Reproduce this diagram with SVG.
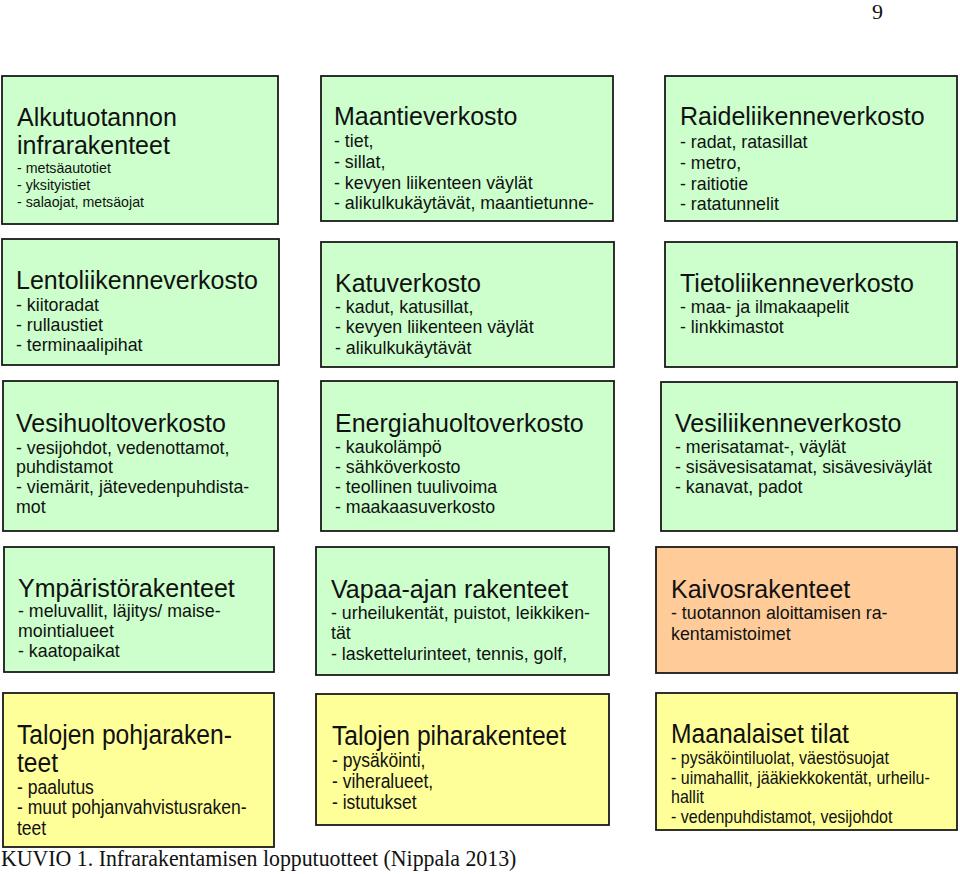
<svg xmlns="http://www.w3.org/2000/svg" width="960" height="874" viewBox="0 0 960 874">
<style>
.box{stroke:#1a1a1a;stroke-width:1.8}
.g{fill:#ccffcc}
.o{fill:#ffcc99}
.y{fill:#ffff99}
text{font-family:"Liberation Sans",Arial,sans-serif;fill:#111}
.t{font-size:25px}
.b{font-size:17.8px}
.s{font-size:14.2px}
.yt{font-size:28px}
.yb{font-size:19.9px}
.ys{font-size:18.2px}
.cap{font-family:"Liberation Serif","Times New Roman",serif;font-size:24px}
.pg{font-family:"Liberation Serif","Times New Roman",serif;font-size:22px}
</style>
<rect width="960" height="874" fill="#ffffff"/>
<text class="pg" x="872" y="19">9</text>

<g id="alkutuotanto">
<rect class="box g" x="2" y="76" width="276" height="148"/>
<text class="t" x="17" y="126">Alkutuotannon</text>
<text class="t" x="17" y="154">infrarakenteet</text>
<text class="s" x="17" y="173">- metsäautotiet</text>
<text class="s" x="17" y="190">- yksityistiet</text>
<text class="s" x="17" y="207">- salaojat, metsäojat</text>
</g>

<g id="maantieverkosto">
<rect class="box g" x="321" y="76" width="292" height="145"/>
<text class="t" x="334" y="125">Maantieverkosto</text>
<text class="b" x="334" y="147">- tiet,</text>
<text class="b" x="334" y="168">- sillat,</text>
<text class="b" x="334" y="189">- kevyen liikenteen väylät</text>
<text class="b" x="334" y="209">- alikulkukäytävät, maantietunne-</text>
</g>

<g id="raideliikenneverkosto">
<rect class="box g" x="665" y="76" width="292" height="145"/>
<text class="t" x="680" y="125">Raideliikenneverkosto</text>
<text class="b" x="680" y="148">- radat, ratasillat</text>
<text class="b" x="680" y="169">- metro,</text>
<text class="b" x="680" y="190">- raitiotie</text>
<text class="b" x="680" y="210">- ratatunnelit</text>
</g>

<g id="lentoliikenneverkosto">
<rect class="box g" x="2" y="239" width="277" height="126"/>
<text class="t" x="16" y="289">Lentoliikenneverkosto</text>
<text class="b" x="16" y="311">- kiitoradat</text>
<text class="b" x="16" y="331">- rullaustiet</text>
<text class="b" x="16" y="351">- terminaalipihat</text>
</g>

<g id="katuverkosto">
<rect class="box g" x="321" y="242" width="293" height="125"/>
<text class="t" x="335" y="292">Katuverkosto</text>
<text class="b" x="335" y="313">- kadut,  katusillat,</text>
<text class="b" x="335" y="333">- kevyen liikenteen väylät</text>
<text class="b" x="335" y="354">- alikulkukäytävät</text>
</g>

<g id="tietoliikenneverkosto">
<rect class="box g" x="665" y="242" width="292" height="125"/>
<text class="t" x="680" y="292">Tietoliikenneverkosto</text>
<text class="b" x="680" y="313">- maa- ja ilmakaapelit</text>
<text class="b" x="680" y="333">- linkkimastot</text>
</g>

<g id="vesihuoltoverkosto">
<rect class="box g" x="3" y="381" width="275" height="150"/>
<text class="t" x="16" y="432">Vesihuoltoverkosto</text>
<text class="b" x="16" y="454">- vesijohdot, vedenottamot,</text>
<text class="b" x="16" y="473">puhdistamot</text>
<text class="b" x="16" y="493">- viemärit, jätevedenpuhdista-</text>
<text class="b" x="16" y="513">mot</text>
</g>

<g id="energiahuoltoverkosto">
<rect class="box g" x="321" y="381" width="293" height="150"/>
<text class="t" x="335" y="432">Energiahuoltoverkosto</text>
<text class="b" x="335" y="453">- kaukolämpö</text>
<text class="b" x="335" y="473">- sähköverkosto</text>
<text class="b" x="335" y="493">- teollinen tuulivoima</text>
<text class="b" x="335" y="513">- maakaasuverkosto</text>
</g>

<g id="vesiliikenneverkosto">
<rect class="box g" x="661" y="382" width="296" height="149"/>
<text class="t" x="675" y="432">Vesiliikenneverkosto</text>
<text class="b" x="675" y="453">- merisatamat-, väylät</text>
<text class="b" x="675" y="473">- sisävesisatamat, sisävesiväylät</text>
<text class="b" x="675" y="493">- kanavat, padot</text>
</g>

<g id="ymparistorakenteet">
<rect class="box g" x="4" y="547" width="270" height="125"/>
<text class="t" x="18" y="597">Ympäristörakenteet</text>
<text class="b" x="18" y="617">- meluvallit, läjitys/ maise-</text>
<text class="b" x="18" y="637">mointialueet</text>
<text class="b" x="18" y="657">- kaatopaikat</text>
</g>

<g id="vapaa-ajan-rakenteet">
<rect class="box g" x="316" y="547" width="293" height="128"/>
<text class="t" x="331" y="598">Vapaa-ajan rakenteet</text>
<text class="b" x="331" y="619">- urheilukentät, puistot, leikkiken-</text>
<text class="b" x="331" y="639">tät</text>
<text class="b" x="331" y="660">- laskettelurinteet, tennis, golf,</text>
</g>

<g id="kaivosrakenteet">
<rect class="box o" x="656" y="547" width="301" height="126"/>
<text class="t" x="671" y="598">Kaivosrakenteet</text>
<text class="b" x="671" y="619">- tuotannon aloittamisen ra-</text>
<text class="b" x="671" y="640">kentamistoimet</text>
</g>

<g id="talojen-pohjarakenteet">
<rect class="box y" x="3" y="693" width="271" height="154"/>
<g transform="translate(17,0) scale(0.88,1)">
<text class="yt" x="0" y="744">Talojen pohjaraken-</text>
<text class="yt" x="0" y="772">teet</text>
<text class="yb" x="0" y="794">- paalutus</text>
<text class="yb" x="0" y="814">- muut pohjanvahvistusraken-</text>
<text class="yb" x="0" y="835">teet</text>
</g>
</g>

<g id="talojen-piharakenteet">
<rect class="box y" x="316" y="694" width="293" height="131"/>
<g transform="translate(332,0) scale(0.88,1)">
<text class="yt" x="0" y="745">Talojen piharakenteet</text>
<text class="yb" x="0" y="767">- pysäköinti,</text>
<text class="yb" x="0" y="788">- viheralueet,</text>
<text class="yb" x="0" y="809">- istutukset</text>
</g>
</g>

<g id="maanalaiset-tilat">
<rect class="box y" x="656" y="693" width="301" height="137"/>
<g transform="translate(671,0) scale(0.88,1)">
<text class="yt" x="0" y="743">Maanalaiset tilat</text>
<text class="ys" x="0" y="764">- pysäköintiluolat, väestösuojat</text>
<text class="ys" x="0" y="784">- uimahallit, jääkiekkokentät, urheilu-</text>
<text class="ys" x="0" y="803">hallit</text>
<text class="ys" x="0" y="823">- vedenpuhdistamot, vesijohdot</text>
</g>
</g>

<g id="connectors"/>

<text class="cap" transform="translate(1,866) scale(0.91,1)" x="0" y="0">KUVIO 1. Infrarakentamisen lopputuotteet (Nippala 2013)</text>
</svg>
